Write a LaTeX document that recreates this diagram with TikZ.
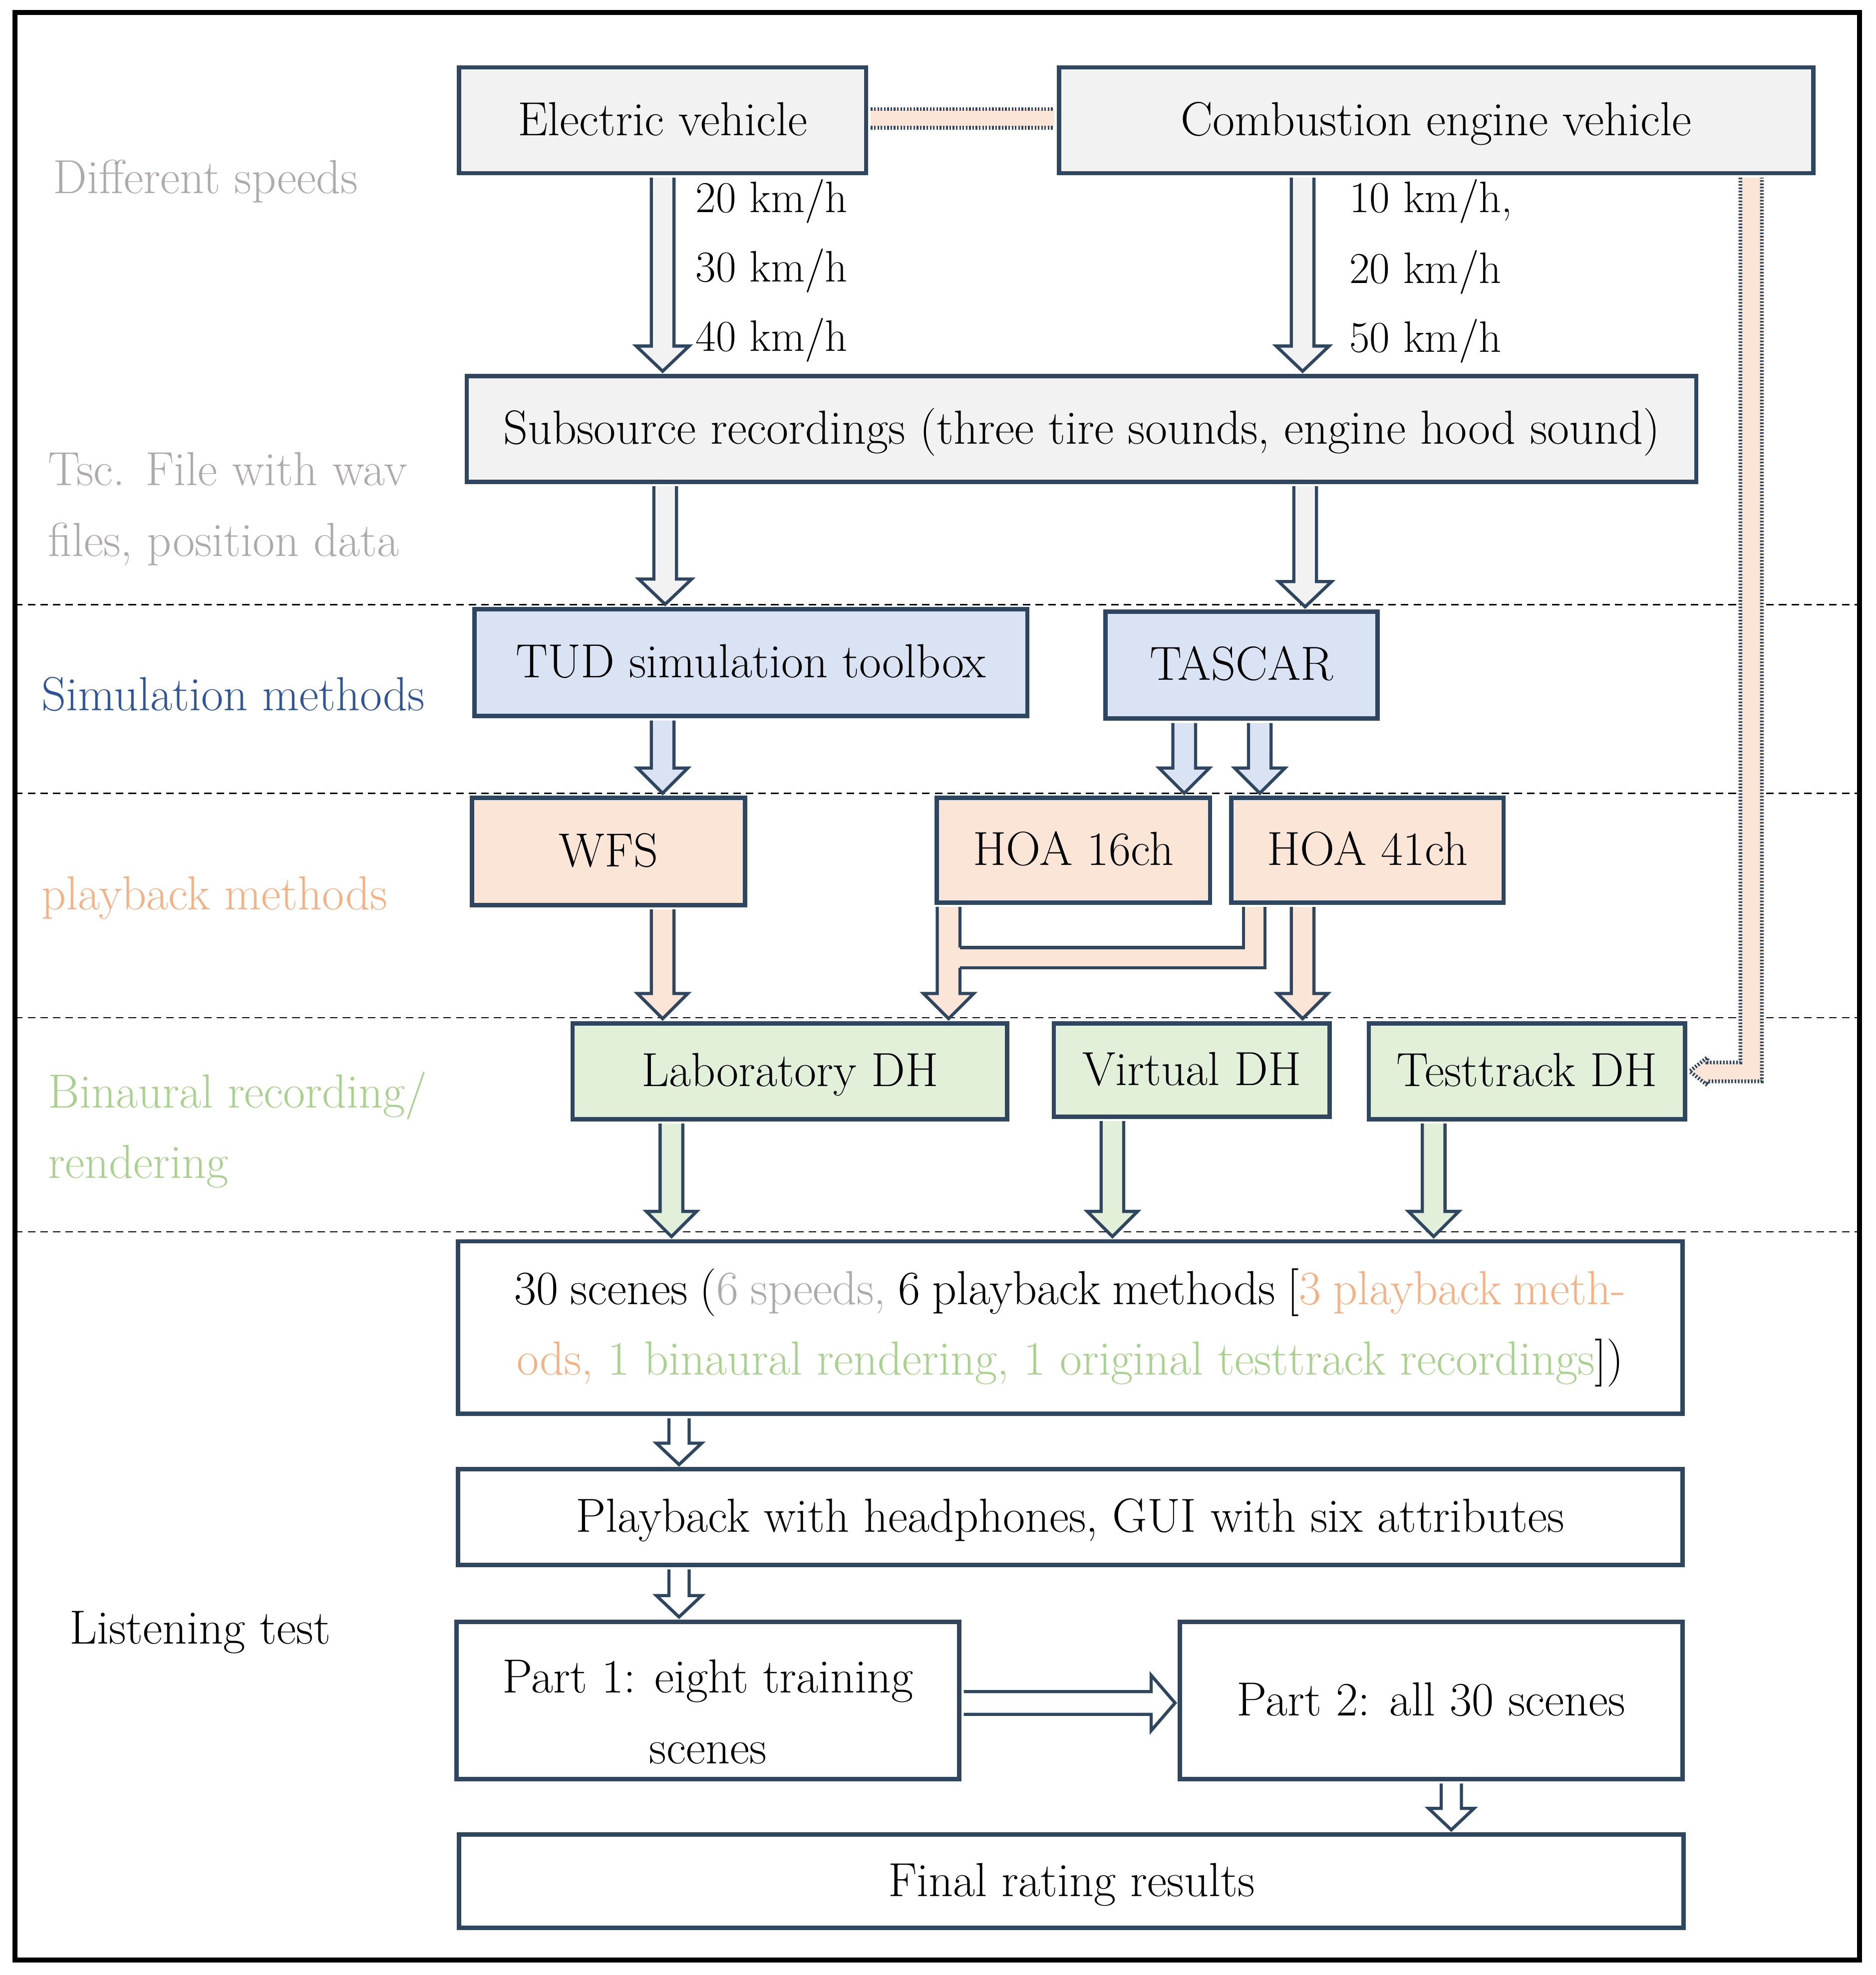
\documentclass[tikz,border=0pt]{standalone}
\usepackage{fontspec}
\usetikzlibrary{calc}
\definecolor{bord}{HTML}{2F4661}
\definecolor{gfill}{HTML}{F2F2F2}
\definecolor{bfill}{HTML}{DAE3F3}
\definecolor{pfill}{HTML}{FBE5D6}
\definecolor{lfill}{HTML}{E2F0D9}
\definecolor{graytxt}{HTML}{AEAAAA}
\definecolor{bluetxt}{HTML}{2F5597}
\definecolor{peachtxt}{HTML}{F4B183}
\definecolor{greentxt}{HTML}{A9D18E}
\newcommand\fsz{\fontsize{38}{56}\selectfont}
\newcommand\fsk{\fontsize{35}{56}\selectfont}
% vertical block arrow: fill, start, end, shaft half width, head half width, head length
\newcommand\varrow[6]{\draw[blk,fill=#1] let \p1=(#2), \p2=(#3) in
  (\x1-#4,\y1-1.75pt) -- (\x1-#4,\y2+#6+2pt) -- (\x1-#5,\y2+#6+2pt) -- (\x1,\y2+2pt)
  -- (\x1+#5,\y2+#6+2pt) -- (\x1+#4,\y2+#6+2pt) -- (\x1+#4,\y1-1.75pt);}
\begin{document}
\begin{tikzpicture}[x=1pt,y=-1pt,
  box/.style={draw=bord, line width=3.5pt, inner sep=0pt, align=center, font=\fsz},
  one/.style={text height=34pt, text depth=10pt},
  lbl/.style={inner sep=0pt, font=\fsz, align=left},
  blk/.style={draw=bord, line width=2.5pt, line join=miter},
  dotline/.style={draw=bord, line width=3pt, dash pattern=on 1.3pt off 1.3pt},
  sep/.style={draw=black, line width=1.1pt, dash pattern=on 6pt off 4pt}]
\useasboundingbox (0,0) rectangle (1489,1568);
\fill[white] (0,0) rectangle (1489,1568);

% separators
\draw[sep] (12,480) -- (1476,480);
\draw[sep] (12,630) -- (1476,630);
\draw[sep] (12,808) -- (1476,808);
\draw[sep] (12,978) -- (1476,978);

% boxes
\node[box, one, fill=gfill, minimum width=323pt, minimum height=84pt] (ev) at (526,95.5) {Electric vehicle};
\node[box, one, fill=gfill, minimum width=599pt, minimum height=84pt] (ce) at (1140,95.5) {Combustion engine vehicle};
\node[box, one, fill=gfill, minimum width=976pt, minimum height=84pt] (sub) at (858.5,340.5) {Subsource recordings (three tire sounds, engine hood sound)};
\node[box, one, fill=bfill, minimum width=439pt, minimum height=85pt] (tud) at (596,526) {TUD simulation toolbox};
\node[box, one, fill=bfill, minimum width=216pt, minimum height=85pt] (tascar) at (985.5,528) {TASCAR};
\node[box, one, fill=pfill, minimum width=217pt, minimum height=85pt] (wfs) at (483,676) {WFS};
\node[box, one, fill=pfill, minimum width=217pt, minimum height=83pt] (hoa16) at (852,675) {HOA 16ch};
\node[box, one, fill=pfill, minimum width=216pt, minimum height=83pt] (hoa41) at (1085.5,675) {HOA 41ch};
\node[box, one, fill=lfill, minimum width=345pt, minimum height=76pt] (lab) at (627,850.5) {Laboratory DH};
\node[box, one, fill=lfill, minimum width=219pt, minimum height=74pt] (virt) at (946,849.5) {Virtual DH};
\node[box, one, fill=lfill, minimum width=251pt, minimum height=76pt] (test) at (1212,850.5) {Testtrack DH};
\node[box, fill=white, minimum width=972pt, minimum height=137pt] (scenes) at (849.5,1054) {%
  \makebox[882pt][s]{30 scenes (\textcolor{graytxt}{6 speeds,} 6 playback methods [\textcolor{peachtxt}{3 playback meth-}}\\
  \textcolor{peachtxt}{ods,} \textcolor{greentxt}{1 binaural rendering, 1 original testtrack recordings}])};
\node[box, one, fill=white, minimum width=972pt, minimum height=76pt] (play) at (849.5,1204.5) {Playback with headphones, GUI with six attributes};
\node[box, fill=white, minimum width=399pt, minimum height=125pt] (p1) at (562,1350) {\raisebox{-17pt}[0pt][0pt]{\begin{tabular}{@{}c@{}}Part 1: eight training\\scenes\end{tabular}}};
\node[box, one, fill=white, minimum width=399pt, minimum height=125pt] (p2) at (1136,1350) {Part 2: all 30 scenes};
\node[box, one, fill=white, minimum width=972pt, minimum height=74pt] (final) at (850.5,1493.5) {Final rating results};

% left labels
\node[lbl, text=graytxt, anchor=west] (ldiff) at (42,144) {Different speeds};
\node[lbl, text=graytxt, anchor=west] (ltsc) at (38,404) {\makebox[285pt][s]{Tsc. File with wav}\\files, position data};
\node[lbl, text=bluetxt, anchor=west] (lsim) at (33,551) {Simulation methods};
\node[lbl, text=peachtxt, anchor=west] (lplay) at (33,713) {playback methods};
\node[lbl, text=greentxt, anchor=west] (lbin) at (38,897) {Binaural recording/\\rendering};
\node[lbl, text=black, anchor=west] (llis) at (55,1296) {Listening test};

% speed labels
\node[lbl, font=\fsk, anchor=west] (s1) at (552,160) {20 km/h};
\node[lbl, font=\fsk, anchor=west] (s2) at (552,215) {30 km/h};
\node[lbl, font=\fsk, anchor=west] (s3) at (552,270) {40 km/h};
\node[lbl, font=\fsk, anchor=west] (s4) at (1071,160) {10 km/h,};
\node[lbl, font=\fsk, anchor=west] (s5) at (1071,216) {20 km/h};
\node[lbl, font=\fsk, anchor=west] (s6) at (1071,271) {50 km/h};

% block arrows
\varrow{gfill}{ev.south}{sub.north}{9pt}{21pt}{20pt}
\varrow{gfill}{$(ce.south)+(-106,0)$}{sub.north}{9pt}{21pt}{20pt}
\varrow{gfill}{$(sub.south)+(-330.5,0)$}{tud.north}{9pt}{21pt}{20pt}
\varrow{gfill}{$(sub.south)+(177.5,0)$}{tascar.north}{9pt}{21pt}{20pt}
\varrow{bfill}{$(tud.south)+(-70,0)$}{wfs.north}{9pt}{20pt}{20pt}
\varrow{bfill}{$(tascar.south)+(-45.5,0)$}{hoa16.north}{9pt}{20pt}{20pt}
\varrow{bfill}{$(tascar.south)+(14.5,0)$}{hoa41.north}{9pt}{20pt}{20pt}
\varrow{pfill}{$(wfs.south)+(43,0)$}{lab.north}{9pt}{20pt}{20pt}
\varrow{pfill}{$(hoa16.south)+(-99,0)$}{lab.north}{9pt}{20pt}{20pt}
\varrow{pfill}{$(hoa41.south)+(-51.5,0)$}{virt.north}{9pt}{20pt}{20pt}
% elbow HOA 41ch -> merged into HOA 16ch arrow
\fill[pfill] let \p1=($(hoa41.south)+(-90,0)$), \p2=($(hoa16.south)+(-99,0)$) in
  (\x2+7pt,\y1-34pt) -- (\x1-8.5pt,\y1-34pt) -- (\x1-8.5pt,\y1-1.75pt) -- (\x1+8.5pt,\y1-1.75pt)
  -- (\x1+8.5pt,\y1-50pt) -- (\x2+7pt,\y1-50pt) -- cycle;
\draw[blk] let \p1=($(hoa41.south)+(-90,0)$), \p2=($(hoa16.south)+(-99,0)$) in
  (\x2+9pt,\y1-34pt) -- (\x1-8.5pt,\y1-34pt) -- (\x1-8.5pt,\y1-1.75pt)
  (\x1+8.5pt,\y1-1.75pt) -- (\x1+8.5pt,\y1-50pt) -- (\x2+9pt,\y1-50pt);
\varrow{lfill}{$(lab.south)+(-94,0)$}{scenes.north}{9pt}{20pt}{20pt}
\varrow{lfill}{$(virt.south)+(-63,0)$}{scenes.north}{9pt}{20pt}{20pt}
\varrow{lfill}{$(test.south)+(-74,0)$}{scenes.north}{9pt}{20pt}{20pt}
\varrow{white}{$(scenes.south)+(-310.5,0)$}{play.north}{8pt}{18pt}{17pt}
\varrow{white}{$(play.south)+(-310.5,0)$}{p1.north}{8pt}{18pt}{17pt}
\varrow{white}{$(p2.south)+(16,0)$}{final.north}{8pt}{18pt}{17pt}
% horizontal arrow Part 1 -> Part 2
\draw[blk,fill=white] let \p1=($(p1.east)+(0,2)$), \p2=(p2.west) in
  (\x1+1.75pt,\y1+9pt) -- (\x2-21pt,\y1+9pt) -- (\x2-21pt,\y1+22pt) -- (\x2-2pt,\y1)
  -- (\x2-21pt,\y1-22pt) -- (\x2-21pt,\y1-9pt) -- (\x1+1.75pt,\y1-9pt);

% dotted connectors
\fill[pfill] ($(ev.east)+(2,-9)$) rectangle ($(ce.west)+(-2,6)$);
\draw[dotline] ($(ev.east)+(2,-9)$) -- ($(ce.west)+(-2,-9)$);
\draw[dotline] ($(ev.east)+(2,6)$) -- ($(ce.west)+(-2,6)$);
\draw[dotline, fill=pfill] let \p1=($(ce.south)+(250,0)$), \p2=(test.east) in
  (\x1-8.5pt,\y1-1.75pt) -- (\x1-8.5pt,\y2+7pt) -- (\x2+16pt,\y2+7pt) -- (\x2+16pt,\y2+11pt)
  -- (\x2+2pt,\y2) -- (\x2+16pt,\y2-11pt) -- (\x2+16pt,\y2-8pt) -- (\x1+8.5pt,\y2-8pt)
  -- (\x1+8.5pt,\y1-1.75pt);

% outer frame
\draw[black, line width=4pt] (12,10) rectangle (1476,1556);
\end{tikzpicture}
\end{document}
